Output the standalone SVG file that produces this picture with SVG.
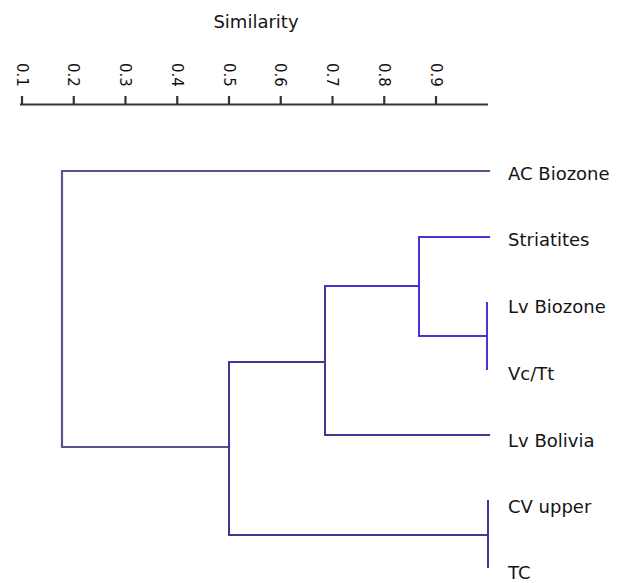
<svg xmlns="http://www.w3.org/2000/svg" width="626" height="583" viewBox="0 0 626 583">
<style>
.lbl{font-family:"DejaVu Sans","Liberation Sans",sans-serif;font-size:18px;fill:#141414}
.tick{font-family:"DejaVu Sans","Liberation Sans",sans-serif;font-size:15px;fill:#111111}
.ax{stroke:#333333;stroke-width:2.2;fill:none}
.br{stroke:#3d3892;stroke-width:2;fill:none;stroke-linecap:square}
.brb{stroke:#4636cf;stroke-width:2;fill:none;stroke-linecap:square}
.brg{stroke:#55548c;stroke-width:2.2;fill:none;stroke-linecap:square}
</style>
<rect width="626" height="583" fill="#ffffff"/>
<g id="axis">
<text class="lbl" x="256" y="28" text-anchor="middle">Similarity</text>
<path class="ax" d="M20 104.5H488M22 96V104M73.75 96V104M125.5 96V104M177.25 96V104M229 96V104M280.75 96V104M332.5 96V104M384.25 96V104M436 96V104"/>
<g class="tick">
<text transform="translate(22,63) rotate(90)" dy="0.36em">0.1</text>
<text transform="translate(73.75,63) rotate(90)" dy="0.36em">0.2</text>
<text transform="translate(125.5,63) rotate(90)" dy="0.36em">0.3</text>
<text transform="translate(177.25,63) rotate(90)" dy="0.36em">0.4</text>
<text transform="translate(229,63) rotate(90)" dy="0.36em">0.5</text>
<text transform="translate(280.75,63) rotate(90)" dy="0.36em">0.6</text>
<text transform="translate(332.5,63) rotate(90)" dy="0.36em">0.7</text>
<text transform="translate(384.25,63) rotate(90)" dy="0.36em">0.8</text>
<text transform="translate(436,63) rotate(90)" dy="0.36em">0.9</text>
</g>
</g>
<g id="connectors">
<path class="brg" d="M489 171H62V447H229"/>
<path class="br" d="M229 447V362M229 447V535H488"/>
<path class="br" d="M488 501V567"/>
<path class="br" d="M229 362H325M325 286V435H489"/>
<path class="brb" d="M325 286H419"/>
<path class="brb" d="M419 237H489M419 237V336H487M487 303V369"/>
</g>
<g id="node-ac-biozone"><text class="lbl" x="508" y="180">AC Biozone</text></g>
<g id="node-striatites"><text class="lbl" x="508" y="246">Striatites</text></g>
<g id="node-lv-biozone"><text class="lbl" x="508" y="313">Lv Biozone</text></g>
<g id="node-vc-tt"><text class="lbl" x="508" y="380">Vc/Tt</text></g>
<g id="node-lv-bolivia"><text class="lbl" x="508" y="447">Lv Bolivia</text></g>
<g id="node-cv-upper"><text class="lbl" x="508" y="513">CV upper</text></g>
<g id="node-tc"><text class="lbl" x="508" y="579">TC</text></g>
</svg>
